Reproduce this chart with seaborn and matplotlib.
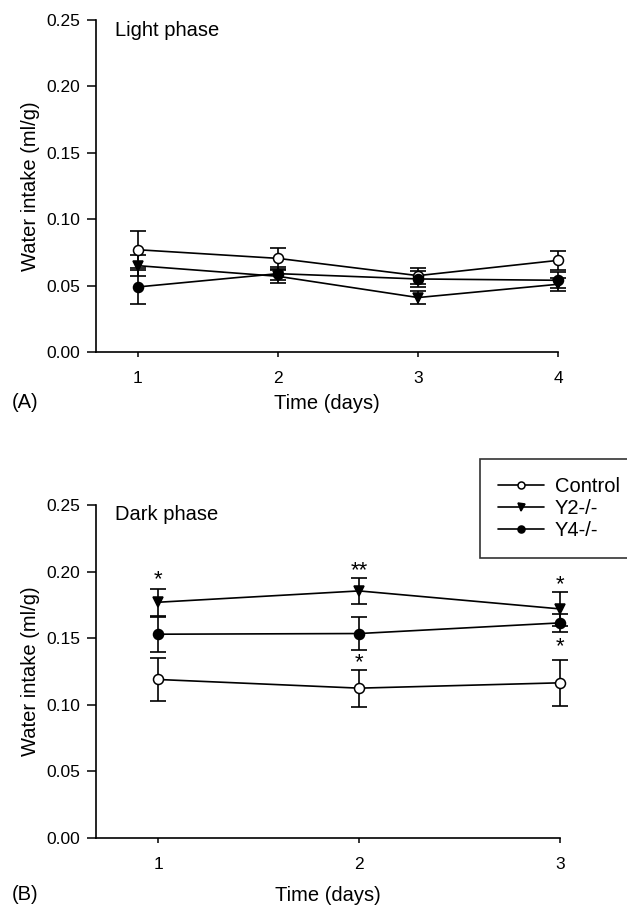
import numpy as np
import pandas as pd
import seaborn as sns
import matplotlib
matplotlib.use("Agg")
import matplotlib.pyplot as plt

# ---- data ----
groups = ["Control", "Y2-/-", "Y4-/-"]

light_days = [1, 2, 3, 4]
light_mean = {
    "Control": [0.077, 0.0705, 0.0575, 0.069],
    "Y2-/-": [0.065, 0.057, 0.041, 0.051],
    "Y4-/-": [0.049, 0.059, 0.055, 0.054],
}
light_sem = {
    "Control": [0.014, 0.008, 0.006, 0.007],
    "Y2-/-": [0.008, 0.005, 0.005, 0.005],
    "Y4-/-": [0.013, 0.005, 0.006, 0.006],
}

dark_days = [1, 2, 3]
dark_mean = {
    "Control": [0.119, 0.1125, 0.1165],
    "Y2-/-": [0.177, 0.1855, 0.172],
    "Y4-/-": [0.153, 0.1535, 0.1615],
}
dark_sem = {
    "Control": [0.0165, 0.014, 0.0175],
    "Y2-/-": [0.010, 0.0095, 0.013],
    "Y4-/-": [0.013, 0.0125, 0.007],
}

# significance marks in dark phase
dark_stars_x = [1, 2, 3, 3, 2]
dark_stars_y = [0.194, 0.2005, 0.190, 0.144, 0.1315]
dark_stars_txt = ["*", "**", "*", "*", "*"]

markers = {"Control": "o", "Y2-/-": "v", "Y4-/-": "o"}
faces = {"Control": "white", "Y2-/-": "black", "Y4-/-": "black"}

sns.set_style("ticks")
plt.rcParams["font.family"] = ["Liberation Sans", "DejaVu Sans"]
plt.rcParams["text.color"] = "black"
plt.rcParams["axes.labelcolor"] = "black"

fig = plt.figure(figsize=(6.27, 9.06), dpi=100)
ax1 = fig.add_axes([96 / 627, 1 - 352 / 906, 462 / 627, 332 / 906])
ax2 = fig.add_axes([96 / 627, 1 - 838 / 906, 464 / 627, 333 / 906])


def draw_panel(ax, days, means, sems):
    rows = []
    for g in groups:
        for d, m, s in zip(days, means[g], sems[g]):
            rows.append({"group": g, "day": d, "mean": m, "sem": s})
    df = pd.DataFrame(rows)
    for g in groups:
        sub = df[df["group"] == g]
        eb = ax.errorbar(sub["day"], sub["mean"], yerr=sub["sem"], fmt="none",
                         ecolor="black", elinewidth=1.2, capsize=6,
                         capthick=1.2, zorder=2)
        for art in eb.get_children():
            art.set_clip_on(False)
        sns.lineplot(data=sub, x="day", y="mean", ax=ax, color="black",
                     marker=markers[g], markersize=7.2,
                     markerfacecolor=faces[g], markeredgecolor="black",
                     markeredgewidth=1.1, linewidth=1.2, label=g,
                     legend=False, zorder=3, clip_on=False)


draw_panel(ax1, light_days, light_mean, light_sem)
draw_panel(ax2, dark_days, dark_mean, dark_sem)

for ax, ndays in [(ax1, 4), (ax2, 3)]:
    ax.set_ylim(0, 0.25)
    ax.set_yticks([0, 0.05, 0.10, 0.15, 0.20, 0.25])
    ax.set_yticklabels(["0.00", "0.05", "0.10", "0.15", "0.20", "0.25"])
    ax.set_xticks(range(1, ndays + 1))
    ax.tick_params(axis="both", labelsize=12.5, width=1.1, colors="black",
                   direction="out")
    ax.tick_params(axis="y", length=6.5, pad=5)
    ax.tick_params(axis="x", length=3.5, pad=10)
    for sp in ["left", "bottom"]:
        ax.spines[sp].set_linewidth(1.2)
        ax.spines[sp].set_color("black")
    sns.despine(ax=ax)
    ax.set_ylabel("Water intake (ml/g)", fontsize=14.5, labelpad=4)

ax1.set_xlim(0.70, 4)
ax2.set_xlim(0.69, 3)
ax1.set_xlabel("Time (days)", fontsize=14.5, labelpad=6)
ax2.set_xlabel("Time (days)", fontsize=14.5, labelpad=10)

fig.text(115 / 627, 1 - 30 / 906, "Light phase", fontsize=14.5,
         va="center", ha="left")
fig.text(115 / 627, 1 - 515 / 906, "Dark phase", fontsize=14.5,
         va="center", ha="left")

for x, y, t in zip(dark_stars_x, dark_stars_y, dark_stars_txt):
    ax2.text(x, y, t, fontsize=16, ha="center", va="center", clip_on=False)

fig.text(12 / 627, 1 - 402 / 906, "(A)", fontsize=14.5, va="center", ha="left")
fig.text(12 / 627, 1 - 894 / 906, "(B)", fontsize=14.5, va="center", ha="left")

handles, labels = ax2.get_legend_handles_labels()
leg = fig.legend(handles, labels, loc="upper left",
                 bbox_to_anchor=(480 / 627, 1 - 460 / 906, 0.3, 0.001),
                 mode="expand", fontsize=14.5, frameon=True, fancybox=False,
                 handlelength=2.3, handletextpad=0.5, labelspacing=0.15,
                 borderpad=0.9, borderaxespad=0, markerscale=0.7)
leg.get_frame().set_edgecolor("black")
leg.get_frame().set_linewidth(1.2)

fig.savefig("out.png", dpi=100)
